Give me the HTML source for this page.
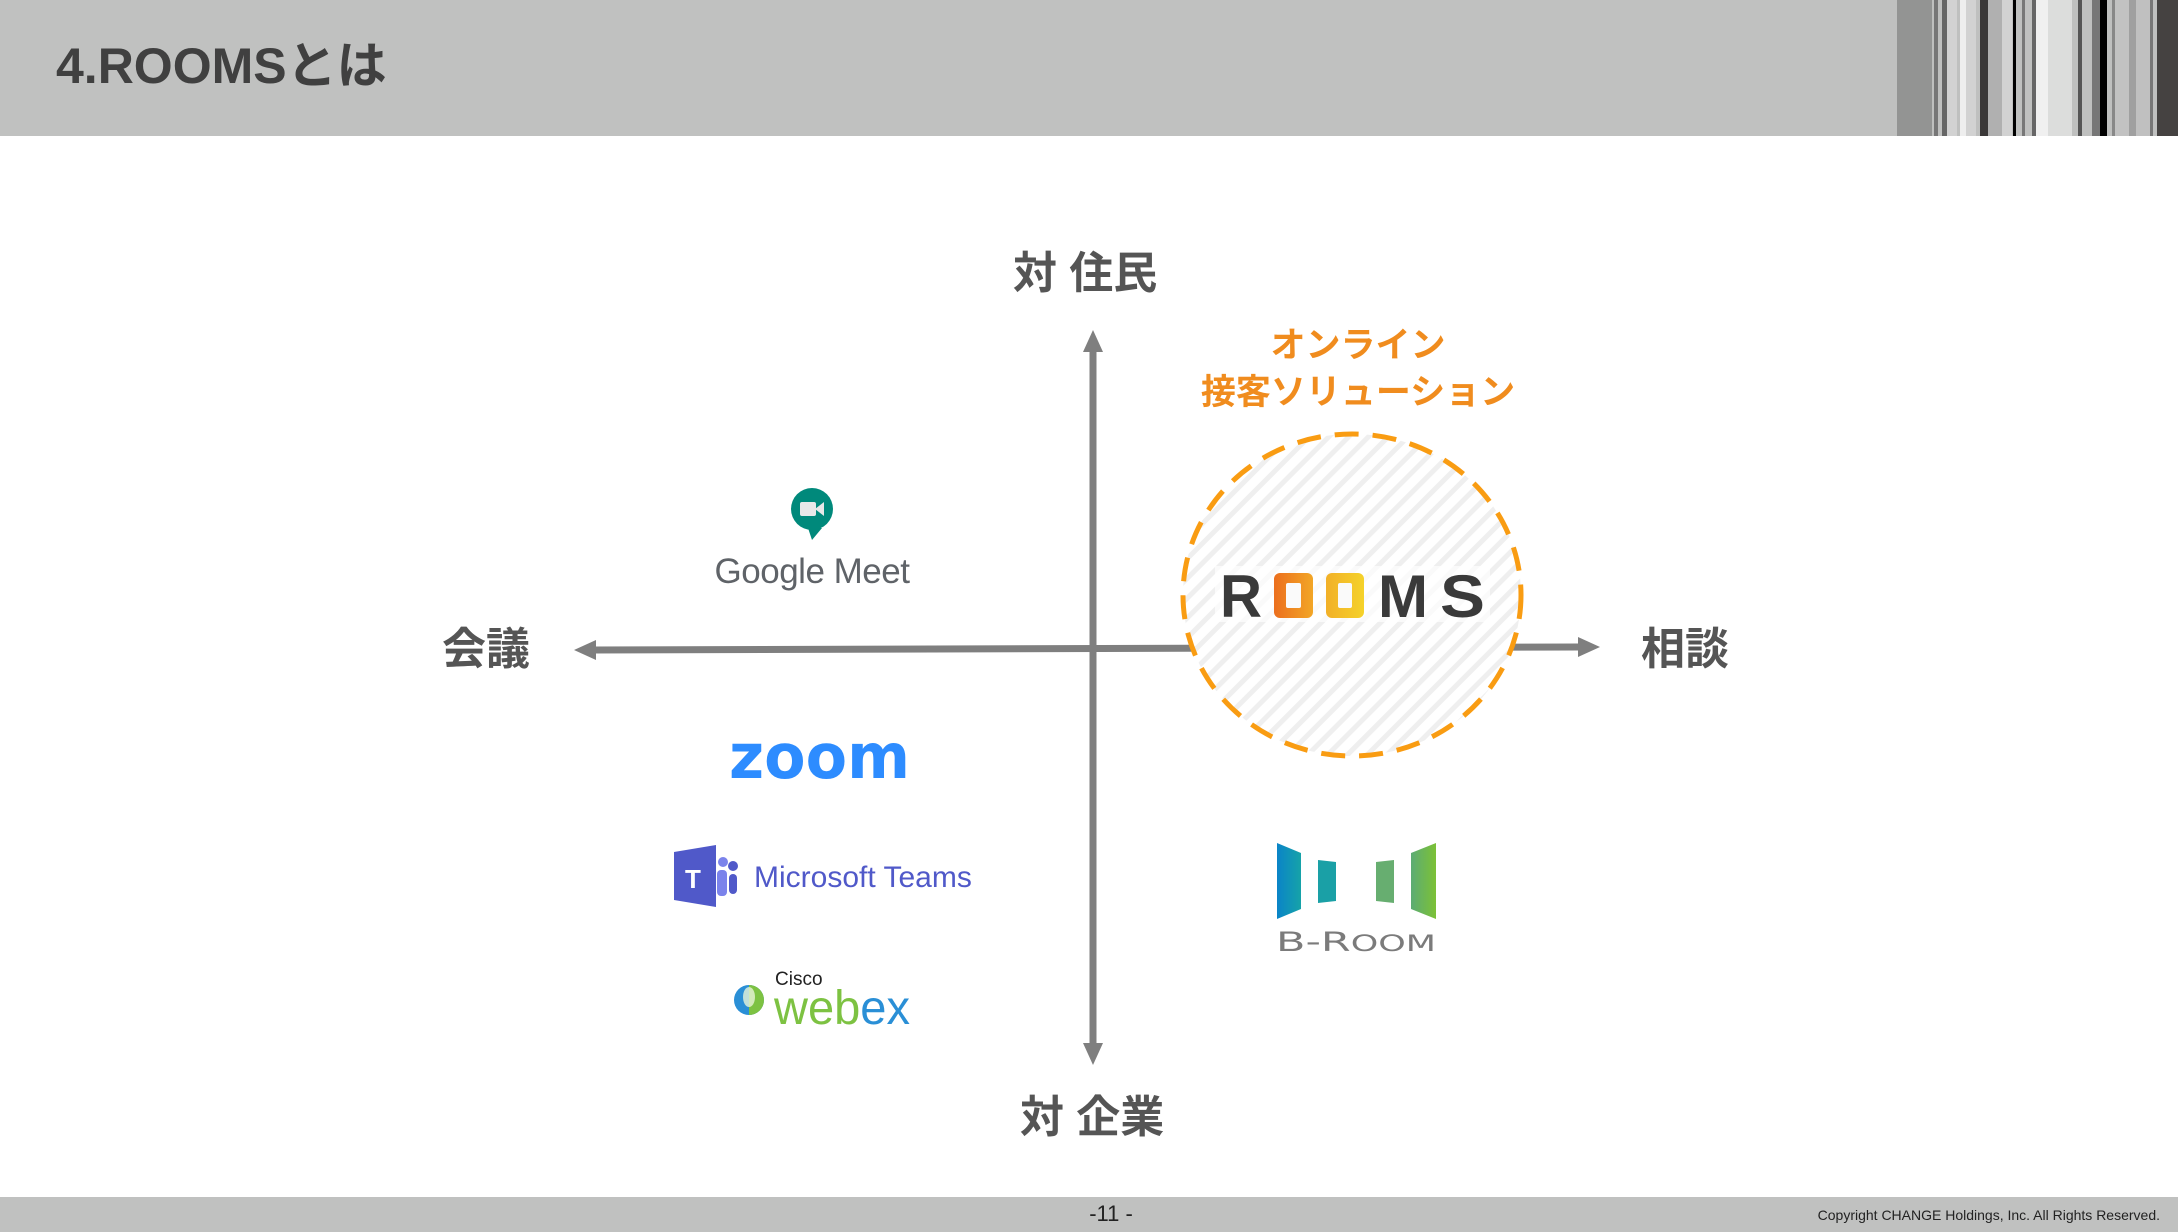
<!DOCTYPE html>
<html><head><meta charset="utf-8"><style>
html,body{margin:0;padding:0}
body{width:2178px;height:1232px;position:relative;overflow:hidden;background:#fff;font-family:"Liberation Sans","Noto Sans CJK JP",sans-serif}
.abs{position:absolute;white-space:nowrap}
.lab{font-size:44px;color:#555;line-height:56px;font-weight:bold}
</style></head><body>
<div class="abs" style="left:0;top:0;width:2178px;height:136px;background:#c0c1c0"></div>
<svg class="abs" style="left:1850px;top:0" width="328" height="136">
<rect x="0" y="0" width="328" height="136" fill="#bfc0bf"/>
<rect x="47" y="0" width="35" height="136" fill="#939493"/>
<rect x="84" y="0" width="4" height="136" fill="#777"/>
<rect x="92" y="0" width="5" height="136" fill="#666"/>
<rect x="97" y="0" width="10" height="136" fill="#d2d2d2"/>
<rect x="110" y="0" width="6" height="136" fill="#eee"/>
<rect x="116" y="0" width="10" height="136" fill="#d2d2d2"/>
<rect x="130" y="0" width="8" height="136" fill="#3a3838"/>
<rect x="138" y="0" width="14" height="136" fill="#b0b0b0"/>
<rect x="152" y="0" width="10" height="136" fill="#d2d2d2"/>
<rect x="163" y="0" width="3" height="136" fill="#000"/>
<rect x="172" y="0" width="3" height="136" fill="#777"/>
<rect x="182" y="0" width="4" height="136" fill="#666"/>
<rect x="186" y="0" width="12" height="136" fill="#f0f0f0"/>
<rect x="198" y="0" width="24" height="136" fill="#dcdddc"/>
<rect x="228" y="0" width="4" height="136" fill="#555"/>
<rect x="242" y="0" width="8" height="136" fill="#777"/>
<rect x="250" y="0" width="7" height="136" fill="#000"/>
<rect x="262" y="0" width="3" height="136" fill="#888"/>
<rect x="265" y="0" width="14" height="136" fill="#c2c2c2"/>
<rect x="279" y="0" width="7" height="136" fill="#a0a0a0"/>
<rect x="286" y="0" width="14" height="136" fill="#c0c0c0"/>
<rect x="300" y="0" width="3" height="136" fill="#777"/>
<rect x="307" y="0" width="21" height="136" fill="#454241"/>
</svg>
<div class="abs" style="left:56px;top:36px;font-size:50px;font-weight:bold;color:#404040;line-height:60px">4.ROOMSとは</div>

<svg class="abs" style="left:0;top:0" width="2178" height="1232">
<defs>
<pattern id="st" width="14" height="14" patternUnits="userSpaceOnUse" patternTransform="rotate(45)">
<rect width="14" height="14" fill="#fff"/><rect width="5" height="14" fill="#efefef"/></pattern>
<linearGradient id="og" x1="0" x2="1"><stop offset="0" stop-color="#ec6f1e"/><stop offset="1" stop-color="#f2a626"/></linearGradient>
<linearGradient id="og2" x1="0" x2="1"><stop offset="0" stop-color="#f2b028"/><stop offset="1" stop-color="#f5d22a"/></linearGradient>
<linearGradient id="bg1" x1="0" x2="1"><stop offset="0" stop-color="#0a84c8"/><stop offset="1" stop-color="#16a3a8"/></linearGradient>
<linearGradient id="bg2" x1="0" x2="1"><stop offset="0" stop-color="#5cac74"/><stop offset="1" stop-color="#7cc136"/></linearGradient>
</defs>
<line x1="1093" y1="350" x2="1093" y2="1045" stroke="#7f7f7f" stroke-width="7"/>
<polygon points="1093,330 1083,352 1103,352" fill="#7f7f7f"/>
<polygon points="1093,1065 1083,1043 1103,1043" fill="#7f7f7f"/>
<line x1="594" y1="650" x2="1580" y2="647" stroke="#7f7f7f" stroke-width="7"/>
<polygon points="574,650 596,640 596,660" fill="#7f7f7f"/>
<polygon points="1600,647 1578,637 1578,657" fill="#7f7f7f"/>
<ellipse cx="1352" cy="595" rx="169" ry="161" fill="url(#st)" stroke="#f99c12" stroke-width="5" stroke-dasharray="24,14"/>
<rect x="1215" y="566" width="275" height="56" fill="#fff" opacity="0.7"/>
<text x="1220" y="617" font-family="Liberation Sans" font-weight="bold" font-size="60" fill="#3a3a3a" textLength="42" lengthAdjust="spacingAndGlyphs">R</text>
<rect x="1274" y="573" width="39" height="45" rx="6" fill="url(#og)"/>
<rect x="1286" y="583" width="15" height="25" rx="2" fill="#fafafa"/>
<rect x="1326" y="573" width="38" height="45" rx="6" fill="url(#og2)"/>
<rect x="1338" y="583" width="14" height="25" rx="2" fill="#fafafa"/>
<text x="1378" y="617" font-family="Liberation Sans" font-weight="bold" font-size="60" fill="#3a3a3a" textLength="50" lengthAdjust="spacingAndGlyphs">M</text>
<text x="1440" y="617" font-family="Liberation Sans" font-weight="bold" font-size="60" fill="#3a3a3a" textLength="45" lengthAdjust="spacingAndGlyphs">S</text>
<circle cx="812" cy="509" r="21" fill="#00897b"/>
<polygon points="808,528 822,528 812,540" fill="#00897b"/>
<rect x="800" y="502" width="16" height="14" rx="2" fill="#e8e8e8"/>
<polygon points="815,509 824,502 824,516" fill="#e8e8e8"/>
<polygon points="674,852 716,845 716,907 674,900" fill="#5059c9"/>
<rect x="682" y="862" width="26" height="28" fill="#5059c9"/>
<text x="685" y="888" font-family="Liberation Sans" font-weight="bold" font-size="26" fill="#fff">T</text>
<circle cx="723" cy="862" r="5" fill="#7b83eb"/><circle cx="733" cy="866" r="5" fill="#5059c9"/>
<rect x="717" y="870" width="10" height="26" rx="4" fill="#7b83eb"/><rect x="729" y="874" width="8" height="20" rx="4" fill="#5059c9"/>
<circle cx="749" cy="1000" r="15" fill="#2a8fd6"/>
<path d="M749 985 A15 15 0 0 1 749 1015 Z" fill="#7dc242"/>
<ellipse cx="749" cy="997" rx="6" ry="10" fill="#e8f4d8" opacity="0.8"/>
<polygon points="1277,843 1301,853 1301,909 1277,919" fill="url(#bg1)"/>
<polygon points="1318,860 1336,862 1336,901 1318,903" fill="#1aa0a6"/>
<polygon points="1376,862 1394,860 1394,903 1376,901" fill="#67ae70"/>
<polygon points="1411,853 1436,843 1436,919 1411,909" fill="url(#bg2)"/>
<text x="1276" y="951" font-family="DejaVu Sans" font-size="27" fill="#7b7b7b" textLength="160" lengthAdjust="spacingAndGlyphs">B-R<tspan font-size="22">OOM</tspan></text>
<text x="729" y="778" font-family="DejaVu Sans" font-weight="bold" font-size="62" fill="#2d8cff" textLength="181" lengthAdjust="spacingAndGlyphs">zoom</text>
<text x="774" y="1024" font-family="Liberation Sans" font-size="48" fill="#7dc242" textLength="136" lengthAdjust="spacingAndGlyphs">web<tspan fill="#2a8fd6">ex</tspan></text>
</svg>

<div class="abs lab" style="left:1013px;top:246px">対 住民</div>
<div class="abs lab" style="left:1020px;top:1090px">対 企業</div>
<div class="abs lab" style="left:442px;top:622px">会議</div>
<div class="abs lab" style="left:1641px;top:622px">相談</div>
<div class="abs" style="left:1158px;top:322px;width:400px;text-align:center;font-size:35px;font-weight:bold;color:#f08c1e;line-height:47px">オンライン<br>接客ソリューション</div>
<div class="abs" style="left:712px;top:550px;width:200px;text-align:center;font-size:35px;color:#5f6368;line-height:44px;letter-spacing:-0.5px">Google Meet</div>
<div class="abs" style="left:754px;top:859px;font-size:30px;color:#5059c9;line-height:38px">Microsoft Teams</div>
<div class="abs" style="left:775px;top:969px;font-size:19px;color:#222;line-height:22px">Cisco</div>

<div class="abs" style="left:0;top:1197px;width:2178px;height:35px;background:#c0c1c0"></div>
<div class="abs" style="left:1061px;top:1200px;width:100px;text-align:center;font-size:22px;color:#222;line-height:28px">-11 -</div>
<div class="abs" style="right:18px;top:1205px;font-size:14px;color:#222;line-height:20px">Copyright CHANGE Holdings, Inc. All Rights Reserved.</div>
</body></html>
